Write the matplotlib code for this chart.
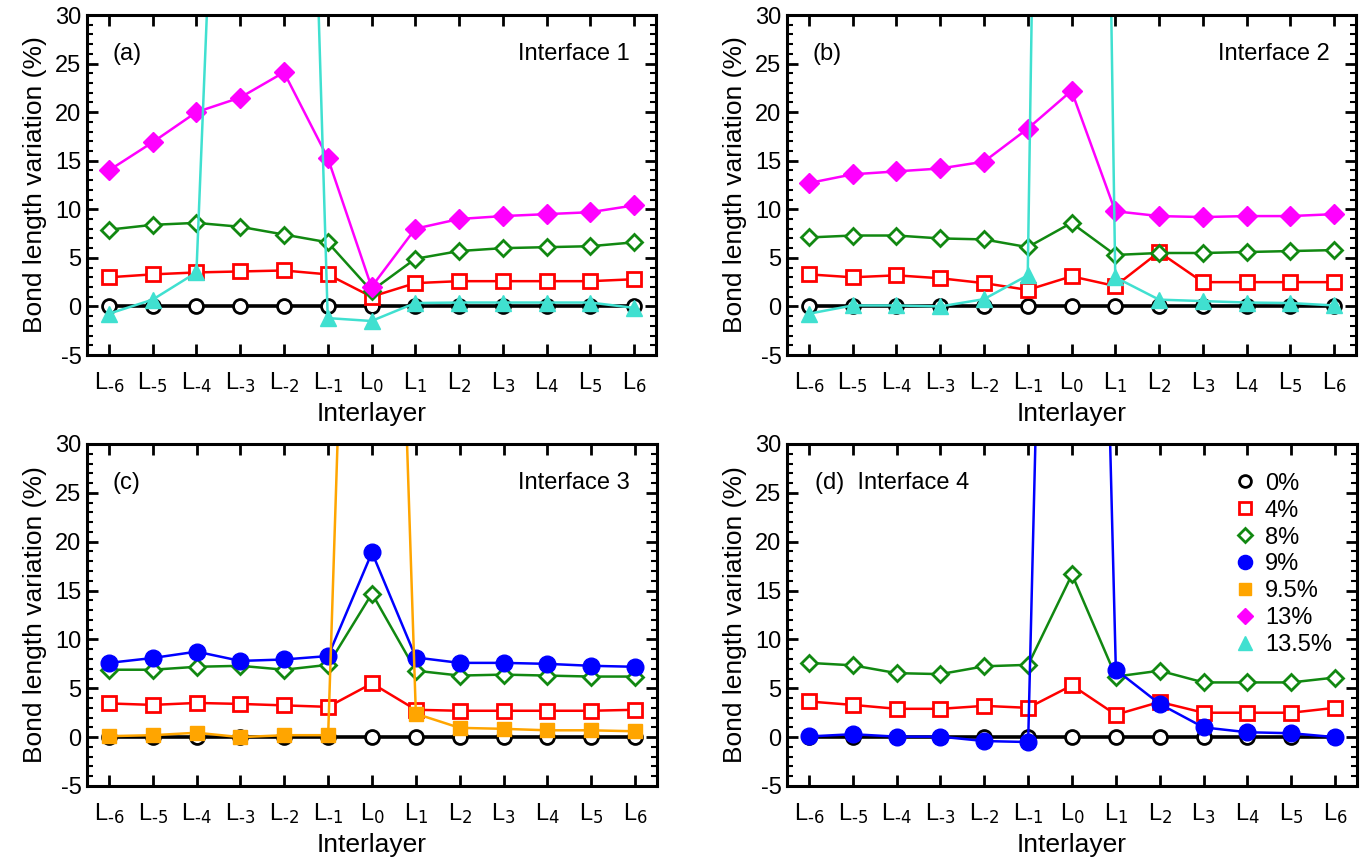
import numpy as np
import matplotlib
matplotlib.use('Agg')
import matplotlib.pyplot as plt
from matplotlib.lines import Line2D

plt.rcParams['font.family'] = ['Liberation Sans', 'DejaVu Sans']
plt.rcParams['mathtext.default'] = 'regular'
plt.rcParams['axes.unicode_minus'] = False

layers = list(range(-6, 7))
layer_labels = [r'L$_{\text{%d}}$' % i for i in layers]

# Interface 1 (a)
a_0 = [0] * 13
a_4 = [3.0, 3.3, 3.5, 3.6, 3.7, 3.3, 1.0, 2.4, 2.6, 2.6, 2.6, 2.6, 2.8]
a_8 = [7.9, 8.4, 8.6, 8.2, 7.4, 6.6, 1.6, 4.9, 5.7, 6.0, 6.1, 6.2, 6.6]
a_13 = [14.0, 16.9, 20.0, 21.5, 24.1, 15.3, 2.0, 8.0, 9.0, 9.3, 9.5, 9.7, 10.4]
a_135 = [-0.75, 0.7, 3.5, 115, 150, -1.2, -1.5, 0.35, 0.4, 0.4, 0.4, 0.4, -0.15]

# Interface 2 (b)
b_0 = [0] * 13
b_4 = [3.3, 3.0, 3.2, 2.9, 2.4, 1.7, 3.1, 2.1, 5.6, 2.5, 2.5, 2.5, 2.5]
b_8 = [7.1, 7.3, 7.3, 7.0, 6.9, 6.1, 8.6, 5.3, 5.5, 5.5, 5.6, 5.7, 5.8]
b_13 = [12.7, 13.6, 13.9, 14.2, 14.9, 18.3, 22.2, 9.8, 9.3, 9.2, 9.3, 9.3, 9.5]
b_135 = [-0.75, 0.1, 0.1, 0.0, 0.75, 3.2, 300, 3.0, 0.7, 0.55, 0.4, 0.35, 0.1]

# Interface 3 (c)
c_0 = [0] * 13
c_4 = [3.45, 3.3, 3.5, 3.4, 3.25, 3.1, 5.5, 2.8, 2.7, 2.7, 2.7, 2.7, 2.8]
c_8 = [6.9, 6.9, 7.2, 7.3, 6.9, 7.4, 14.7, 6.8, 6.3, 6.4, 6.3, 6.2, 6.2]
c_9 = [7.6, 8.1, 8.75, 7.8, 7.95, 8.3, 18.9, 8.15, 7.6, 7.6, 7.5, 7.3, 7.2]
c_95 = [0.1, 0.2, 0.45, 0.0, 0.2, 0.2, 140, 2.4, 0.95, 0.85, 0.7, 0.7, 0.6]

# Interface 4 (d)
d_0 = [0] * 13
d_4 = [3.65, 3.3, 2.9, 2.9, 3.2, 3.0, 5.3, 2.3, 3.6, 2.5, 2.5, 2.5, 3.0]
d_8 = [7.6, 7.35, 6.55, 6.45, 7.25, 7.4, 16.65, 6.2, 6.8, 5.6, 5.6, 5.6, 6.1]
d_9 = [0.07, 0.3, 0.05, 0.05, -0.4, -0.5, 185, 6.9, 3.4, 1.0, 0.5, 0.4, 0.0]

# style per strain level
styles = {
    '0%': dict(color='black', marker='o', mfc='white', ms=10, lw=2.6, mew=2),
    '4%': dict(color='#ff0000', marker='s', mfc='white', ms=10, lw=1.8, mew=2),
    '8%': dict(color='#118811', marker='D', mfc='white', ms=8.5, lw=1.8, mew=2),
    '9%': dict(color='#0000ff', marker='o', mfc='#0000ff', ms=12, lw=1.8, mew=1),
    '9.5%': dict(color='#ffa500', marker='s', mfc='#ffa500', ms=10.5, lw=1.8, mew=1),
    '13%': dict(color='#ff00ff', marker='D', mfc='#ff00ff', ms=10, lw=1.8, mew=1),
    '13.5%': dict(color='#40e0d0', marker='^', mfc='#40e0d0', ms=11.5, lw=1.8, mew=1),
}

panels = [
    ('(a)', 'Interface 1', [('0%', a_0), ('4%', a_4), ('8%', a_8), ('13%', a_13), ('13.5%', a_135)]),
    ('(b)', 'Interface 2', [('0%', b_0), ('4%', b_4), ('8%', b_8), ('13%', b_13), ('13.5%', b_135)]),
    ('(c)', 'Interface 3', [('0%', c_0), ('4%', c_4), ('8%', c_8), ('9%', c_9), ('9.5%', c_95)]),
    ('(d)', 'Interface 4', [('0%', d_0), ('4%', d_4), ('8%', d_8), ('9%', d_9)]),
]

fig = plt.figure(figsize=(13.7, 8.6), dpi=100)
W, H = 1370, 860
rects = [(87, 15, 656, 355), (787, 15, 1356, 355),
         (87, 444, 657, 786), (787, 444, 1357, 786)]

for (lab, title, series), (x0, y0, x1, y1) in zip(panels, rects):
    ax = fig.add_axes([x0 / W, 1 - y1 / H, (x1 - x0) / W, (y1 - y0) / H])
    for name, vals in series:
        st = styles[name]
        ax.plot(layers, vals, color=st['color'], lw=st['lw'], marker=st['marker'],
                ms=st['ms'], mfc=st['mfc'], mec=st['color'], mew=st['mew'])
    ax.set_xlim(-6.5, 6.5)
    ax.set_ylim(-5, 30)
    ax.set_xticks(layers)
    ax.set_xticklabels(layer_labels, fontsize=17)
    ax.set_yticks(range(-5, 31, 5))
    ax.set_yticks(range(-5, 31), minor=True)
    ax.tick_params(axis='y', which='major', labelsize=17, direction='in', length=8,
                   width=2, right=True, pad=4)
    ax.tick_params(axis='y', which='minor', direction='in', length=4, width=1.5, right=True)
    ax.tick_params(axis='x', which='major', direction='in', length=8, width=2, top=True, pad=11)
    for sp in ax.spines.values():
        sp.set_linewidth(2.2)
    ax.set_xlabel('Interlayer', fontsize=19, labelpad=5)
    ax.set_ylabel('Bond length variation (%)', fontsize=19, labelpad=6)
    if lab == '(d)':
        ax.text(0.049, 0.885, '(d)  Interface 4', transform=ax.transAxes, fontsize=17,
                va='center', ha='left')
        handles = []
        for name in ['0%', '4%', '8%', '9%', '9.5%', '13%', '13.5%']:
            st = styles[name]
            handles.append(Line2D([], [], ls='none', marker=st['marker'], color=st['color'],
                                  mfc=st['mfc'], mec=st['color'], mew=st['mew'],
                                  ms=st['ms'] * 0.85, label=name))
        ax.legend(handles=handles, loc='upper left', bbox_to_anchor=(0.77, 0.944),
                  frameon=False, fontsize=17, handlelength=0.8, handletextpad=0.45,
                  labelspacing=0.21, borderaxespad=0)
    else:
        ax.text(0.045, 0.885, lab, transform=ax.transAxes, fontsize=17, va='center', ha='left')
        ax.text(0.953, 0.885, title, transform=ax.transAxes, fontsize=17, va='center', ha='right')

fig.savefig('out.png', dpi=100)
